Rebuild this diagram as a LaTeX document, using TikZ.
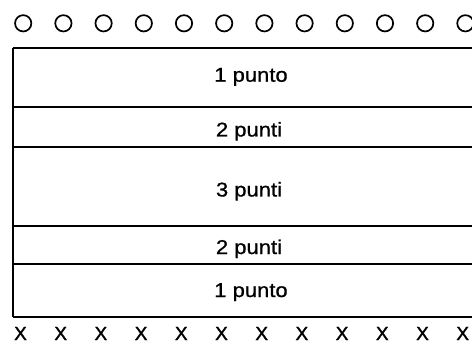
\documentclass[tikz,border=0pt]{standalone}
\usepackage{fontspec}
\setmainfont{Liberation Sans}
\begin{document}
\begin{tikzpicture}[x=1pt,y=-1pt,
  hole/.style={draw=black,line width=1.7pt,circle,minimum size=16.3pt,inner sep=0pt},
  cross/.style={font=\fontsize{19}{19}\selectfont\addfontfeature{FakeBold=1.5},inner sep=0pt,anchor=base},
  lbl/.style={font=\fontsize{20}{20}\selectfont\addfontfeature{FakeBold=0.8},inner sep=0pt,anchor=base},
  rule/.style={line width=2.2pt},
  side/.style={line width=2pt}]
\useasboundingbox (0,0) rectangle (472,345);
\foreach \i in {0,...,11}{
  \node[hole] (o\i) at ({23.2+40.2*\i},23.3) {};
  \node[cross] (x\i) at ({20.5+40.2*\i},340) {X};
}
\coordinate (tl) at (12.5,48);
\coordinate (tr) at (473,48);
\coordinate (l1) at (12.5,107);
\coordinate (r1) at (473,107);
\coordinate (l2) at (12.5,147);
\coordinate (r2) at (473,147);
\coordinate (l3) at (12.5,226);
\coordinate (r3) at (473,226);
\coordinate (l4) at (12.5,264);
\coordinate (r4) at (473,264);
\coordinate (bl) at (12.5,317);
\coordinate (br) at (473,317);
\draw[side] (tl) -- (bl);
\draw[rule] (tl) -- (tr);
\draw[rule] (l1) -- (r1);
\draw[rule] (l2) -- (r2);
\draw[rule] (l3) -- (r3);
\draw[rule] (l4) -- (r4);
\draw[rule] (bl) -- (br);
\node[lbl] (t1) at (251,81.7) {\scalebox{1.1}[1]{1 punto}};
\node[lbl] (t2) at (249,136.5) {\scalebox{1.1}[1]{2 punti}};
\node[lbl] (t3) at (249,196.5) {\scalebox{1.1}[1]{3 punti}};
\node[lbl] (t4) at (249,254) {\scalebox{1.1}[1]{2 punti}};
\node[lbl] (t5) at (251,297) {\scalebox{1.1}[1]{1 punto}};
\end{tikzpicture}
\end{document}
